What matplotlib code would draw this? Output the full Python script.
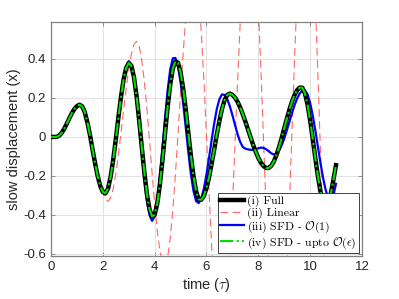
import numpy as np
import matplotlib
matplotlib.use("Agg")
from matplotlib import pyplot as plt

plt.rcParams['font.family'] = ['Liberation Sans', 'DejaVu Sans']
plt.rcParams['mathtext.fontset'] = 'cm'

"""values read off the figure, t step 0.1 from 0 to 11"""
t = np.round(np.arange(0, 11.01, 0.1), 2)

full = [0.000, 0.000, 0.000, 0.005, 0.019, 0.040, 0.066, 0.094, 0.121, 0.143,
        0.158, 0.165, 0.157, 0.127, 0.076, 0.011, -0.063, -0.136, -0.201, -0.252,
        -0.282, -0.289, -0.264, -0.204, -0.116, -0.011, 0.101, 0.206, 0.294, 0.354,
        0.379, 0.365, 0.306, 0.210, 0.086, -0.049, -0.180, -0.292, -0.371, -0.408,
        -0.398, -0.342, -0.245, -0.120, 0.018, 0.153, 0.268, 0.350, 0.388, 0.380,
        0.331, 0.248, 0.140, 0.020, -0.099, -0.202, -0.279, -0.320, -0.322, -0.302,
        -0.262, -0.206, -0.137, -0.063, 0.013, 0.083, 0.144, 0.189, 0.215, 0.222,
        0.216, 0.202, 0.180, 0.151, 0.117, 0.079, 0.039, -0.001, -0.040, -0.076,
        -0.107, -0.132, -0.149, -0.159, -0.159, -0.148, -0.126, -0.094, -0.053, -0.007,
        0.043, 0.092, 0.139, 0.181, 0.215, 0.240, 0.253, 0.252, 0.224, 0.167,
        0.087, -0.008, -0.107, -0.200, -0.279, -0.333, -0.359, -0.345, -0.290, -0.220,
        -0.145]

linear = [0.000, 0.000, 0.000, 0.005, 0.019, 0.040, 0.066, 0.094, 0.121, 0.143,
          0.158, 0.165, 0.158, 0.132, 0.087, 0.029, -0.040, -0.111, -0.180, -0.242,
          -0.289, -0.320, -0.330, -0.313, -0.265, -0.189, -0.090, 0.022, 0.138, 0.250,
          0.349, 0.425, 0.473, 0.490, 0.466, 0.395, 0.285, 0.143, -0.018, -0.185,
          -0.343, -0.480, -0.583, -0.636, -0.659, -0.618, -0.520, -0.375, -0.193, 0.014,
          0.227, 0.432, 0.611, 0.752, 0.843, 0.880, 0.845, 0.727, 0.536, 0.289,
          0.007, -0.285, -0.562, -0.800, -0.977, -1.079, -1.096, -1.024, -0.867, -0.638,
          -0.355, -0.041, 0.280, 0.582, 0.841, 1.034, 1.151, 1.178, 1.104, 0.930,
          0.672, 0.353, -0.005, -0.366, -0.700, -0.981, -1.182, -1.287, -1.287, -1.180,
          -0.976, -0.691, -0.348, 0.025, 0.398, 0.741, 1.026, 1.230, 1.337, 1.336,
          1.221, 0.992, 0.696, 0.326, -0.075, -0.476, -0.846, -1.152, -1.371, -1.486,
          -1.500]

sfd0 = [0.000, 0.000, 0.000, 0.005, 0.019, 0.040, 0.066, 0.094, 0.121, 0.143,
        0.158, 0.165, 0.157, 0.127, 0.075, 0.010, -0.064, -0.138, -0.204, -0.256,
        -0.286, -0.294, -0.268, -0.207, -0.117, -0.010, 0.103, 0.210, 0.300, 0.361,
        0.388, 0.364, 0.294, 0.188, 0.056, -0.084, -0.217, -0.327, -0.401, -0.430,
        -0.407, -0.328, -0.206, -0.057, 0.099, 0.239, 0.346, 0.403, 0.405, 0.362,
        0.281, 0.173, 0.048, -0.078, -0.192, -0.278, -0.329, -0.339, -0.315, -0.265,
        -0.192, -0.106, -0.015, 0.071, 0.144, 0.194, 0.218, 0.215, 0.194, 0.158,
        0.112, 0.062, 0.014, -0.025, -0.051, -0.060, -0.064, -0.066, -0.066, -0.063,
        -0.058, -0.055, -0.056, -0.063, -0.073, -0.084, -0.090, -0.086, -0.071, -0.044,
        -0.009, 0.033, 0.077, 0.122, 0.163, 0.197, 0.223, 0.237, 0.239, 0.219,
        0.175, 0.112, 0.035, -0.049, -0.133, -0.209, -0.271, -0.313, -0.329, -0.300,
        -0.240]

sfd1 = [0.000, 0.000, 0.000, 0.005, 0.019, 0.040, 0.066, 0.094, 0.121, 0.143,
        0.158, 0.165, 0.157, 0.127, 0.076, 0.011, -0.063, -0.136, -0.201, -0.252,
        -0.282, -0.289, -0.264, -0.204, -0.116, -0.011, 0.101, 0.206, 0.294, 0.354,
        0.379, 0.365, 0.306, 0.210, 0.086, -0.049, -0.180, -0.292, -0.371, -0.408,
        -0.398, -0.342, -0.245, -0.120, 0.018, 0.153, 0.268, 0.350, 0.388, 0.380,
        0.331, 0.248, 0.140, 0.020, -0.099, -0.202, -0.279, -0.320, -0.322, -0.302,
        -0.262, -0.206, -0.137, -0.063, 0.013, 0.083, 0.144, 0.189, 0.215, 0.222,
        0.216, 0.202, 0.180, 0.151, 0.117, 0.079, 0.039, -0.001, -0.040, -0.076,
        -0.107, -0.132, -0.149, -0.159, -0.159, -0.148, -0.126, -0.094, -0.053, -0.007,
        0.043, 0.092, 0.139, 0.181, 0.215, 0.240, 0.253, 0.252, 0.224, 0.167,
        0.087, -0.008, -0.107, -0.200, -0.279, -0.333, -0.359, -0.345, -0.290, -0.220,
        -0.145]

labels = ['(i) Full', '(ii) Linear', r'(iii) SFD - $\mathcal{O}(1)$',
          r'(iv) SFD - upto $\mathcal{O}(\epsilon)$']
xticks = [0, 2, 4, 6, 8, 10, 12]
yticks = [-0.6, -0.4, -0.2, 0, 0.2, 0.4]

fig = plt.figure(figsize=(3.99, 2.99), dpi=100)
ax = fig.add_axes([0.128, 0.144, 0.779, 0.783])

p1, = ax.plot(t, full, color='black', lw=3.2, zorder=4, label=labels[0])
p2, = ax.plot(t, linear, color='#ff6666', lw=0.8, dashes=(7, 4), zorder=2, label=labels[1])
p3, = ax.plot(t, sfd0, color='#0000ff', lw=1.6, zorder=3, label=labels[2])
p4, = ax.plot(t, sfd1, color='#00e000', lw=1.5, ls='-.', zorder=5, label=labels[3])

ax.set_xlim(0, 12)
ax.set_ylim(-0.61, 0.59)
ax.set_xticks(xticks)
ax.set_yticks(yticks)
ax.set_yticklabels(['-0.6', '-0.4', '-0.2', '0', '0.2', '0.4'])
ax.grid(True, color='#e3e3e3', lw=0.8)
ax.set_axisbelow(True)
ax.tick_params(direction='in', top=True, right=True, length=3, width=0.6,
               colors='#808080', labelcolor='#262626', labelsize=9.5)
for s in ax.spines.values():
    s.set_color('#808080')
    s.set_linewidth(0.9)

ax.set_xlabel(r'time ($\tau$)', fontsize=10.5, color='#262626', labelpad=2)
ax.set_ylabel('slow displacement (x)', fontsize=10.5, color='#262626', labelpad=2)

leg = ax.legend(handles=[p1, p2, p3, p4], loc='lower right', fancybox=False,
                framealpha=1, edgecolor='#404040', prop={'family': 'cmr10', 'size': 8.5},
                handlelength=2.0, handletextpad=0.3, labelspacing=0.05,
                borderpad=0.2, borderaxespad=0.25)
leg.get_frame().set_linewidth(0.7)
leg.set_zorder(10)

fig.savefig('out.png', dpi=100)
